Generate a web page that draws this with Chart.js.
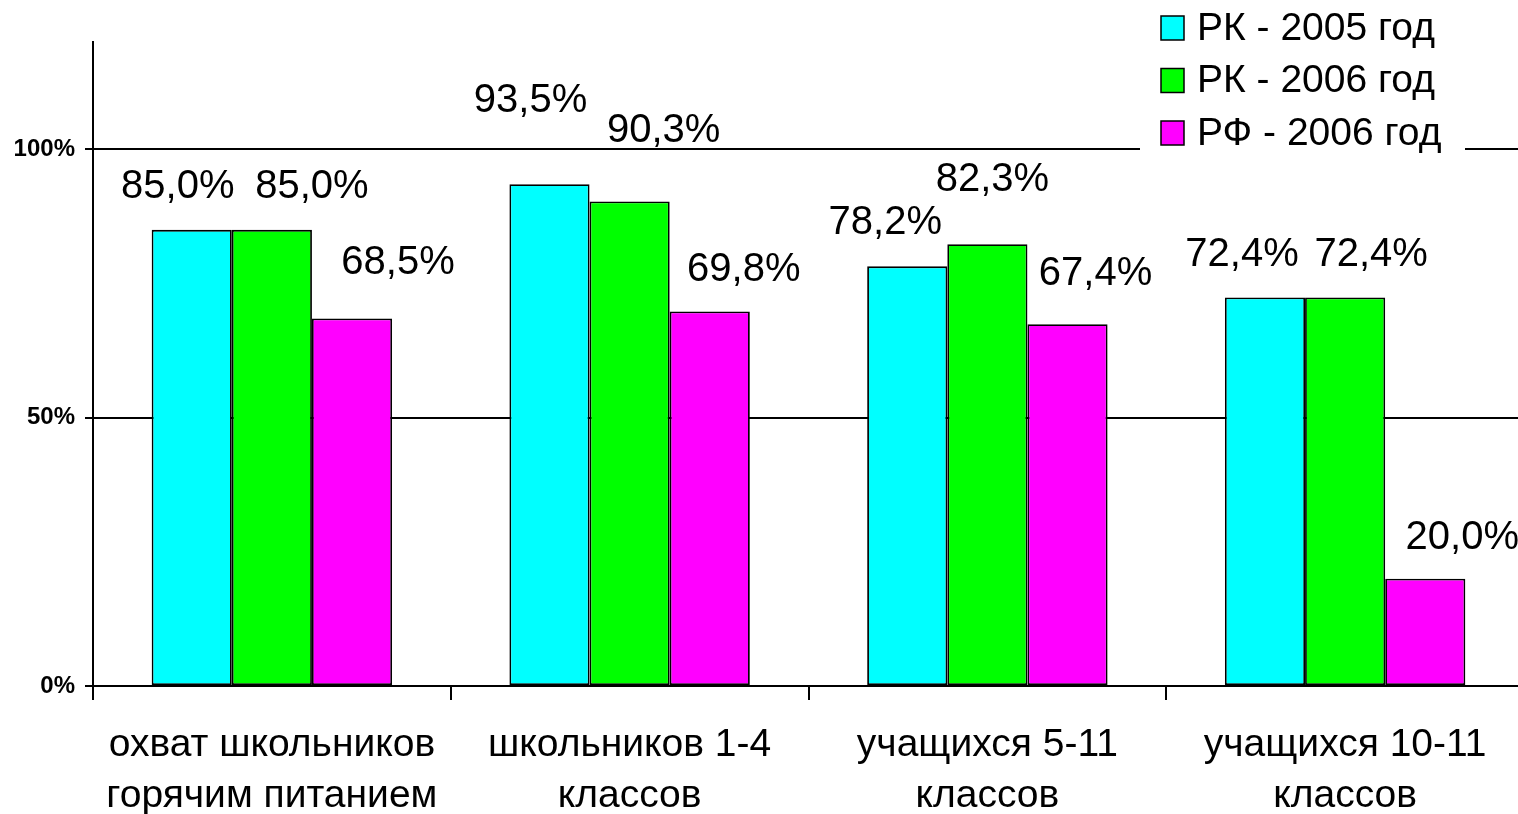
<!DOCTYPE html>
<html>
<head>
<meta charset="utf-8">
<script src="https://cdn.jsdelivr.net/npm/chart.js@4"></script>
<style>
  html, body { margin: 0; padding: 0; background: #fff; overflow: hidden; }
  #wrap { width: 1524px; height: 814px; }
</style>
</head>
<body>
<div id="wrap"><canvas id="barChart"></canvas></div>
<script>
// chart data
const categories = [
    ['охват школьников', 'горячим питанием'],
    ['школьников 1-4', 'классов'],
    ['учащихся 5-11', 'классов'],
    ['учащихся 10-11', 'классов'],
];
const seriesNames = ['РК - 2005 год', 'РК - 2006 год', 'РФ - 2006 год'];
const rk2005 = [85.0, 93.5, 78.2, 72.4];
const rk2006 = [85.0, 90.3, 82.3, 72.4];
const rf2006 = [68.5, 69.8, 67.4, 20.0];
const yTicks = [0, 50, 100];

const colors = ['#00ffff', '#00ff00', '#ff00ff'];
const FONT = "'Liberation Sans', Arial, sans-serif";

// label nudges (dx, dy from top centre of each bar), like the excel layout
const labelShift = [
    [[-14, -43], [40, -43], [46, -55]],
    [[-19, -83], [34, -70], [34, -41]],
    [[-22, -43], [5, -64], [28, -50]],
    [[-23, -42], [26, -42], [37, -41]],
];

const valueLabels = {
    id: 'valueLabels',
    afterDatasetsDraw(chart) {
        const ctx = chart.ctx;
        ctx.save();
        ctx.font = '40px ' + FONT;
        ctx.fillStyle = '#000';
        ctx.textAlign = 'center';
        ctx.textBaseline = 'middle';
        chart.data.datasets.forEach((ds, d) => {
            chart.getDatasetMeta(d).data.forEach((bar, i) => {
                const txt = ds.data[i].toFixed(1).replace('.', ',') + '%';
                const s = labelShift[i][d];
                ctx.fillText(txt, bar.x + s[0], bar.y + s[1]);
            });
        });
        ctx.restore();
    },
};

// legend drawn by hand in the top right corner, on a white box over the grid
const boxLegend = {
    id: 'boxLegend',
    afterDraw(chart) {
        const ctx = chart.ctx;
        ctx.save();
        ctx.fillStyle = '#fff';
        ctx.fillRect(1140, 0, 325, 160);
        ctx.font = '39px ' + FONT;
        ctx.textBaseline = 'middle';
        ctx.textAlign = 'left';
        seriesNames.forEach((name, k) => {
            const cy = 28 + k * 52.5;
            ctx.fillStyle = colors[k];
            ctx.fillRect(1161, cy - 12, 23, 24);
            ctx.strokeStyle = '#000';
            ctx.lineWidth = 1.5;
            ctx.strokeRect(1161, cy - 12, 23, 24);
            ctx.fillStyle = '#000';
            ctx.fillText(name, 1197, cy + 1);
        });
        ctx.restore();
    },
};

const series = [rk2005, rk2006, rf2006];

new Chart(document.getElementById('barChart'), {
    type: 'bar',
    data: {
        labels: categories,
        datasets: series.map((vals, k) => ({
            label: seriesNames[k],
            data: vals,
            backgroundColor: colors[k],
            borderColor: '#000',
            borderWidth: 1.8,
            borderSkipped: false,
            categoryPercentage: 0.672,
            barPercentage: 1.0,
        })),
    },
    options: {
        responsive: true,
        maintainAspectRatio: false,
        animation: false,
        layout: { padding: { top: 42, left: 0, right: 0, bottom: 0 } },
        plugins: {
            legend: { display: false },
            tooltip: { enabled: false },
        },
        scales: {
            x: {
                offset: true,
                grid: {
                    offset: true,
                    drawOnChartArea: false,
                    color: '#000',
                    lineWidth: 2,
                    tickLength: 14,
                },
                border: { display: false },
                ticks: {
                    color: '#000',
                    padding: 20,
                    maxRotation: 0,
                    autoSkip: false,
                    font: { family: FONT, size: 39, lineHeight: 1.31 },
                },
                afterFit(scale) { scale.height = 128; },
            },
            y: {
                min: 0,
                max: 120,
                afterBuildTicks(scale) {
                    scale.ticks = yTicks.map(v => ({ value: v }));
                },
                grid: {
                    color: '#000',
                    lineWidth: 2,
                    tickLength: 8,
                },
                border: { display: true, color: '#000', width: 2 },
                ticks: {
                    color: '#000',
                    padding: 10,
                    font: { family: FONT, size: 24, weight: 'bold' },
                    callback: v => v + '%',
                },
                afterFit(scale) { scale.width = 93; },
            },
        },
    },
    plugins: [valueLabels, boxLegend],
});
</script>
</body>
</html>
